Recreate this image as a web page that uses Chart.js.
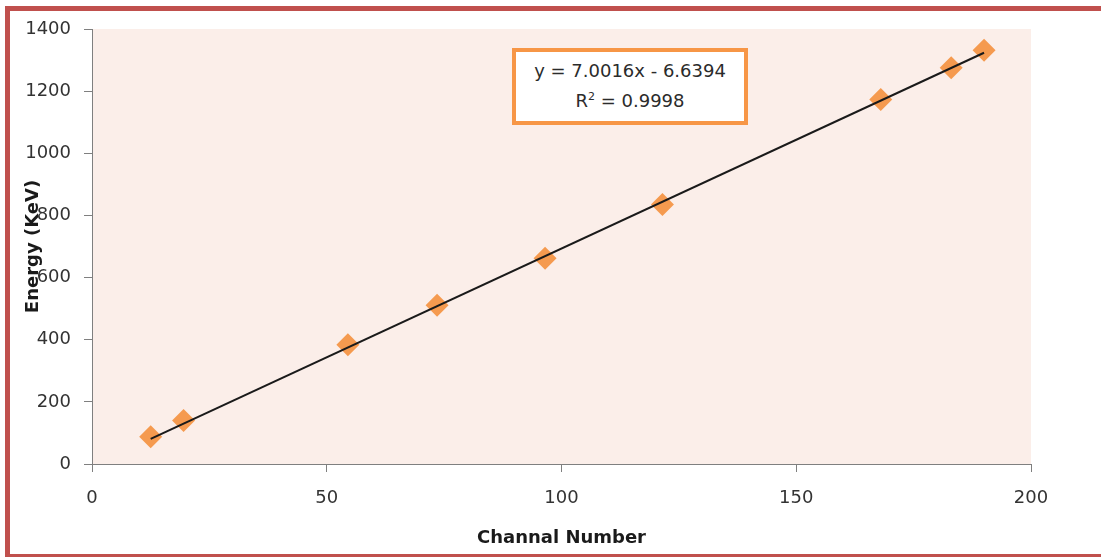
<!DOCTYPE html>
<html>
<head>
<meta charset="utf-8">
<script src="https://cdn.jsdelivr.net/npm/chart.js@4/dist/chart.umd.min.js"></script>
<style>
    html, body { margin: 0; padding: 0; background: #ffffff; overflow: hidden; }
    #wrap { position: relative; width: 1101px; height: 560px; overflow: hidden; }
    #calibChart { display: block; }
    #fitBox {
        position: absolute; left: 512px; top: 48px; width: 236px; height: 77px;
        box-sizing: border-box; border: 4px solid #f79646; background: #ffffff;
        font-family: 'DejaVu Sans', sans-serif; font-size: 18px; color: #2b2b2b;
        text-align: center; line-height: 30px; padding-top: 4px;
    }
    #fitBox sup { font-size: 11px; line-height: 0; vertical-align: 7px; }
</style>
</head>
<body>
<div id="wrap">
    <canvas id="calibChart" width="1101" height="560"></canvas>
    <div id="fitBox"></div>
</div>
<script>
// Calibration points
const channels = [12.5, 19.5, 54.5, 73.5, 96.5, 121.5, 168, 183, 190];
const energies = [88, 140, 384, 511, 662, 835, 1173, 1275, 1332];

// Linear fit shown in the label
const fitSlope = 7.0016;
const fitIntercept = -6.6394;
const fitR2 = 0.9998;

const xTicks = [0, 50, 100, 150, 200];
const yTicks = [0, 200, 400, 600, 800, 1000, 1200, 1400];

const points = channels.map((c, i) => ({ x: c, y: energies[i] }));

// trend line from the first to the last channel
const xFirst = channels[0];
const xLast = channels[channels.length - 1];
const trendPoints = [
    { x: xFirst, y: fitSlope * xFirst + fitIntercept },
    { x: xLast, y: fitSlope * xLast + fitIntercept }
];

document.getElementById('fitBox').innerHTML =
    'y = ' + fitSlope.toFixed(4) + 'x - ' + Math.abs(fitIntercept).toFixed(4) +
    '<br>R<sup>2</sup> = ' + fitR2.toFixed(4);

// fond rose de la zone de tracé + cadre rouge (gauche, haut, bas)
const plotBackground = {
    id: 'plotBackground',
    beforeDraw(chart) {
        const { ctx, chartArea } = chart;
        ctx.save();
        ctx.fillStyle = '#fbeee9';
        ctx.fillRect(chartArea.left, chartArea.top, chartArea.right - chartArea.left, chartArea.bottom - chartArea.top);
        ctx.fillStyle = '#c0504d';
        ctx.fillRect(5, 6, chart.width - 5, 5);
        ctx.fillRect(5, 6, 5, 551);
        ctx.fillRect(5, 554, chart.width - 5, 3);
        ctx.restore();
    }
};

const axisGrey = '#7f7f7f';
const tickFont = { family: 'DejaVu Sans', size: 18 };
const titleFont = { family: 'DejaVu Sans', size: 18, weight: 'bold' };

new Chart(document.getElementById('calibChart'), {
    type: 'scatter',
    data: {
        datasets: [
            {
                label: 'Trend',
                data: trendPoints,
                showLine: true,
                borderColor: '#1a1a1a',
                borderWidth: 2,
                pointRadius: 0,
                fill: false,
                order: 0
            },
            {
                label: 'Energy',
                data: points,
                pointStyle: 'rectRot',
                pointRadius: 11.5,
                pointHoverRadius: 11.5,
                backgroundColor: '#f59a4f',
                borderColor: '#f59a4f',
                borderWidth: 0,
                order: 1
            }
        ]
    },
    options: {
        responsive: false,
        animation: false,
        layout: { padding: { left: 10, top: 29, right: 70, bottom: 0 } },
        plugins: {
            legend: { display: false },
            tooltip: { enabled: false }
        },
        scales: {
            x: {
                type: 'linear',
                min: 0,
                max: 200,
                afterBuildTicks: (scale) => { scale.ticks = xTicks.map(v => ({ value: v })); },
                afterFit: (scale) => { scale.height = 96; },
                grid: { drawOnChartArea: false, drawTicks: true, tickLength: 8, color: axisGrey },
                border: { color: axisGrey, width: 1 },
                ticks: { color: '#333333', font: tickFont, padding: 16, maxRotation: 0, callback: (v) => String(v) },
                title: {
                    display: true,
                    text: 'Channal Number',
                    color: '#1a1a1a',
                    font: titleFont,
                    padding: { top: 0, bottom: 11 }
                }
            },
            y: {
                type: 'linear',
                min: 0,
                max: 1400,
                afterBuildTicks: (scale) => { scale.ticks = yTicks.map(v => ({ value: v })); },
                afterFit: (scale) => { scale.width = 82; },
                grid: { drawOnChartArea: false, drawTicks: true, tickLength: 8, color: axisGrey },
                border: { color: axisGrey, width: 1 },
                ticks: { color: '#333333', font: tickFont, padding: 13, callback: (v) => String(v) },
                title: {
                    display: true,
                    text: 'Energy (KeV)',
                    color: '#1a1a1a',
                    font: titleFont,
                    padding: { top: 13, bottom: 0 }
                }
            }
        }
    },
    plugins: [plotBackground]
});
</script>
</body>
</html>
